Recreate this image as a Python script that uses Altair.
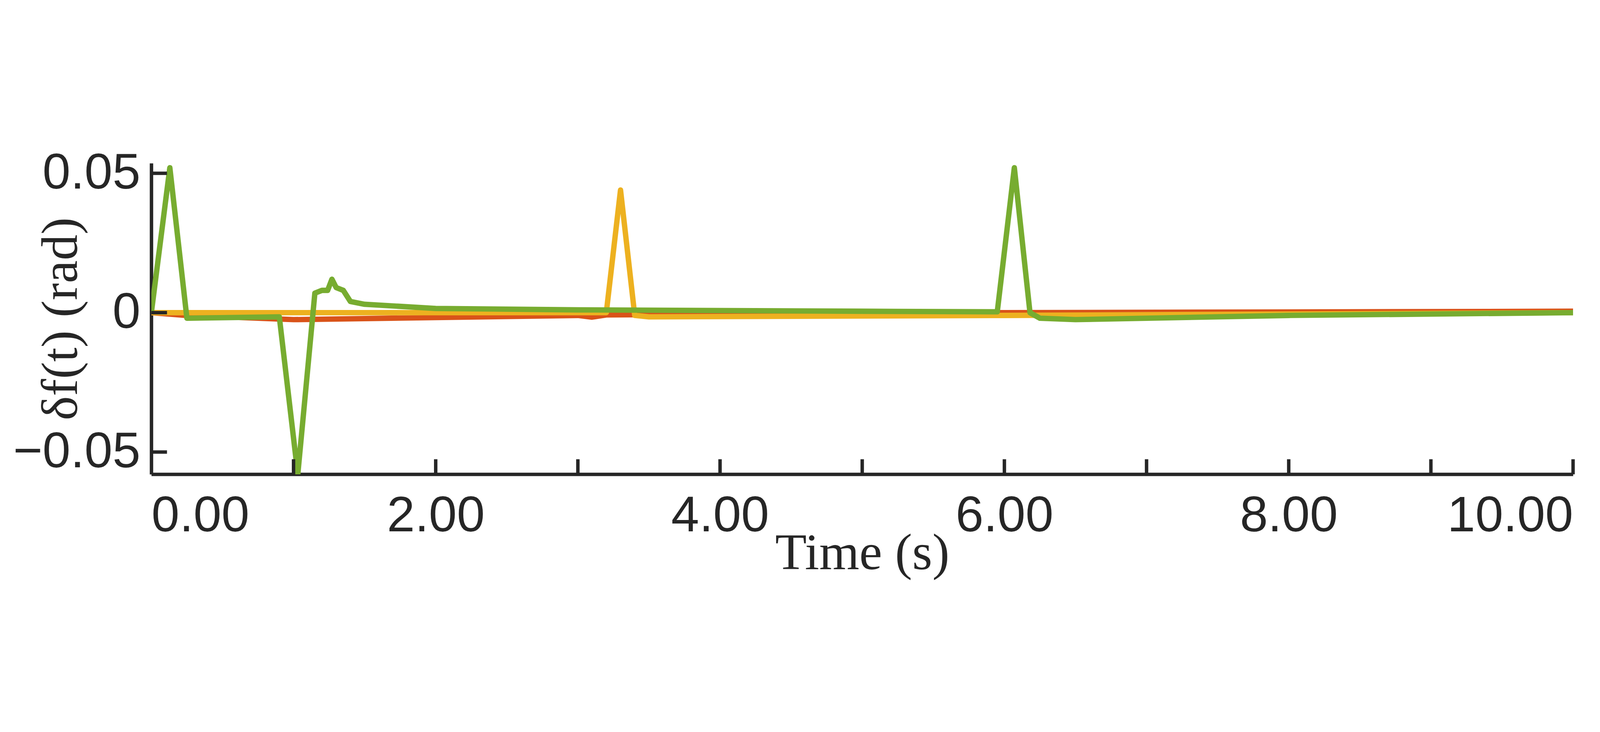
import altair as alt
import pandas as pd

# time (s) / steering angle (rad)
orange_t = [0, 0.25, 1.0, 3.0, 3.1, 3.2, 6.0, 10.0]
orange_v = [0, -0.001, -0.0025, -0.001, -0.0016, -0.0008, 0.0, 0.0005]

yellow_t = [0, 3.2, 3.3, 3.4, 3.5, 6.0, 10.0]
yellow_v = [0, 0, 0.044, -0.001, -0.0015, -0.001, 0.0]

green_t = [0, 0.13, 0.25, 0.9, 1.03, 1.15, 1.2, 1.24, 1.27, 1.3, 1.35, 1.4, 1.5,
           2.0, 3.0, 5.0, 5.95, 6.07, 6.18, 6.25, 6.5, 7.0, 8.0, 10.0]
green_v = [0, 0.052, -0.002, -0.0015, -0.058, 0.007, 0.008, 0.008, 0.012, 0.009,
           0.008, 0.004, 0.003, 0.0015, 0.001, 0.0005, 0.0003, 0.052, 0.0, -0.002,
           -0.0025, -0.002, -0.001, 0.0]

x_ticks = list(range(0, 11))
y_ticks = [-0.05, 0, 0.05]
Y_MIN, Y_MAX = -0.058, 0.0536

rows = []
for name, ts, vs in [("a", orange_t, orange_v), ("b", yellow_t, yellow_v), ("c", green_t, green_v)]:
    for i, (t, v) in enumerate(zip(ts, vs)):
        rows.append({"series": name, "t": t, "v": v, "order": i})
df = pd.DataFrame(rows)

x_scale = alt.Scale(domain=[0, 10], nice=False)
y_scale = alt.Scale(domain=[Y_MIN, Y_MAX], nice=False, zero=False)

lines = alt.Chart(df).mark_line(strokeWidth=22, strokeJoin="round", clip=True).encode(
    x=alt.X("t:Q", scale=x_scale,
            axis=alt.Axis(values=x_ticks, title="Time (s)", tickSize=0, labelPadding=70,
                          titlePadding=20)),
    y=alt.Y("v:Q", scale=y_scale,
            axis=alt.Axis(values=y_ticks, title="δf(t)  (rad)", tickSize=0, labelPadding=45,
                          labelExpr="datum.value == 0 ? '0' : format(datum.value, '.2f')",
                          titlePadding=60)),
    color=alt.Color("series:N", legend=None,
                    scale=alt.Scale(domain=["a", "b", "c"], range=["#D95319", "#EDB120", "#77AC30"])),
    order="order:Q",
)

xt = pd.DataFrame({"x": x_ticks[1:], "y": [Y_MIN] * 10, "y2": [Y_MIN + 0.0054] * 10})
x_tick_marks = alt.Chart(xt).mark_rule(color="#262626", strokeWidth=14).encode(
    x=alt.X("x:Q", scale=x_scale), y=alt.Y("y:Q", scale=y_scale), y2="y2:Q")

yt = pd.DataFrame({"y": y_ticks, "x": [0] * 3, "x2": [0.11] * 3})
y_tick_marks = alt.Chart(yt).mark_rule(color="#262626", strokeWidth=14).encode(
    y=alt.Y("y:Q", scale=y_scale), x=alt.X("x:Q", scale=x_scale), x2="x2:Q")

chart = (lines + x_tick_marks + y_tick_marks).properties(
    width=6494, height=1859,
    autosize=alt.AutoSizeParams(type="fit", contains="padding"),
    padding={"left": 40, "top": 60, "right": 90, "bottom": 60},
).configure_view(stroke=None).configure_axis(
    grid=False, domainColor="#262626", domainWidth=14,
    labelFont="Liberation Sans", labelFontSize=205, labelColor="#262626", labelLimit=0,
    titleFont="Liberation Serif", titleFontSize=210, titleColor="#262626", titleFontWeight="normal",
    titleLimit=0,
)

chart.save("out.html", embed_options={"renderer": "svg", "actions": False})
